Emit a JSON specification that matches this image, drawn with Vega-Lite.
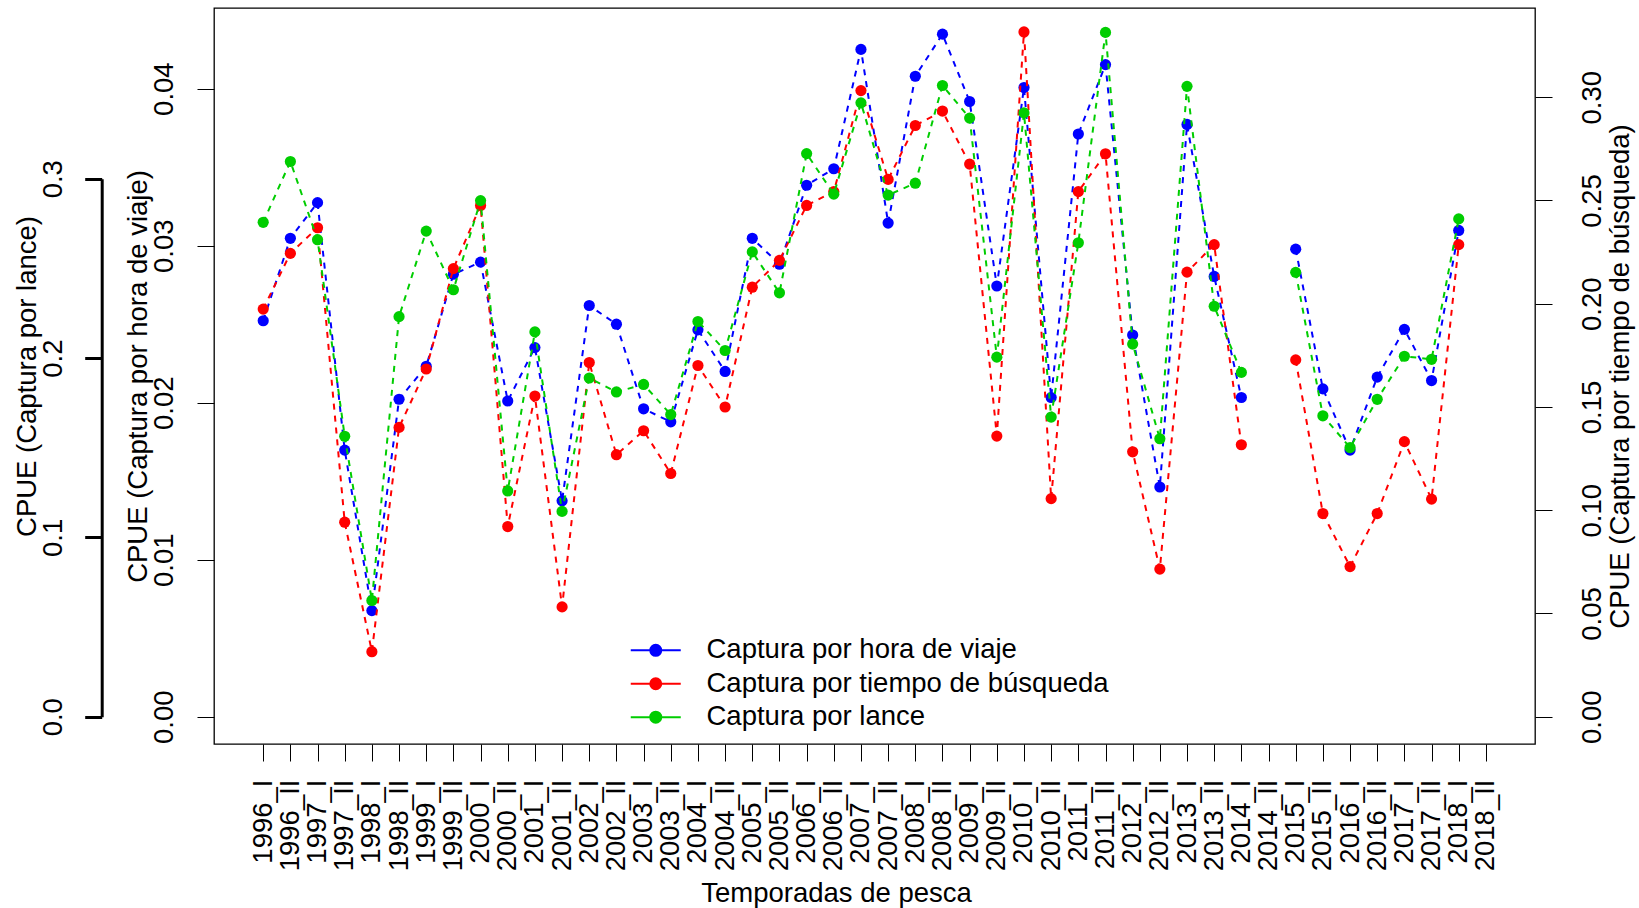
{
  "$schema": "https://vega.github.io/schema/vega-lite/v6.json",
  "width": 1321,
  "height": 736,
  "autosize": {"type": "none"},
  "padding": {"left": 214, "top": 8, "right": 104, "bottom": 164},
  "background": "white",
  "config": {
    "view": {"stroke": "black", "strokeWidth": 1.3},
    "font": "Liberation Sans",
    "axis": {
      "labelFont": "Liberation Sans",
      "titleFont": "Liberation Sans",
      "labelFontSize": 27.5,
      "titleFontSize": 27.5,
      "titleFontWeight": "normal",
      "labelColor": "black",
      "titleColor": "black",
      "tickColor": "black",
      "domainColor": "black",
      "grid": false,
      "labelOverlap": false,
      "labelFlush": false,
      "labelBound": false
    }
  },
  "data": {
    "values": [
      {"t": "1996_I", "hv": 0.02522, "tb": 0.1974, "ln": 0.2757},
      {"t": "1996_II", "hv": 0.03047, "tb": 0.2244, "ln": 0.3096},
      {"t": "1997_I", "hv": 0.03274, "tb": 0.2368, "ln": 0.2660},
      {"t": "1997_II", "hv": 0.01698, "tb": 0.0942, "ln": 0.1564},
      {"t": "1998_I", "hv": 0.00676, "tb": 0.0315, "ln": 0.0648},
      {"t": "1998_II", "hv": 0.02022, "tb": 0.1401, "ln": 0.2231},
      {"t": "1999_I", "hv": 0.02232, "tb": 0.1684, "ln": 0.2708},
      {"t": "1999_II", "hv": 0.02818, "tb": 0.2170, "ln": 0.2381},
      {"t": "2000_I", "hv": 0.02895, "tb": 0.2476, "ln": 0.2878},
      {"t": "2000_II", "hv": 0.02011, "tb": 0.0921, "ln": 0.1259},
      {"t": "2001_I", "hv": 0.02351, "tb": 0.1553, "ln": 0.2146},
      {"t": "2001_II", "hv": 0.01375, "tb": 0.0532, "ln": 0.1145},
      {"t": "2002_I", "hv": 0.02619, "tb": 0.1715, "ln": 0.1889},
      {"t": "2002_II", "hv": 0.02500, "tb": 0.1269, "ln": 0.1811},
      {"t": "2003_I", "hv": 0.01961, "tb": 0.1385, "ln": 0.1853},
      {"t": "2003_II", "hv": 0.01878, "tb": 0.1178, "ln": 0.1685},
      {"t": "2004_I", "hv": 0.02464, "tb": 0.1701, "ln": 0.2204},
      {"t": "2004_II", "hv": 0.02199, "tb": 0.1500, "ln": 0.2042},
      {"t": "2005_I", "hv": 0.03047, "tb": 0.2080, "ln": 0.2592},
      {"t": "2005_II", "hv": 0.02882, "tb": 0.2210, "ln": 0.2364},
      {"t": "2006_I", "hv": 0.03385, "tb": 0.2476, "ln": 0.3140},
      {"t": "2006_II", "hv": 0.03490, "tb": 0.2543, "ln": 0.2914},
      {"t": "2007_I", "hv": 0.04250, "tb": 0.3032, "ln": 0.3423},
      {"t": "2007_II", "hv": 0.03144, "tb": 0.2602, "ln": 0.2909},
      {"t": "2008_I", "hv": 0.04079, "tb": 0.2863, "ln": 0.2975},
      {"t": "2008_II", "hv": 0.04347, "tb": 0.2933, "ln": 0.3520},
      {"t": "2009_I", "hv": 0.03918, "tb": 0.2676, "ln": 0.3338},
      {"t": "2009_II", "hv": 0.02743, "tb": 0.1359, "ln": 0.2005},
      {"t": "2010_I", "hv": 0.04007, "tb": 0.3316, "ln": 0.3367},
      {"t": "2010_II", "hv": 0.02033, "tb": 0.1056, "ln": 0.1671},
      {"t": "2011_I", "hv": 0.03711, "tb": 0.2543, "ln": 0.2643},
      {"t": "2011_II", "hv": 0.04153, "tb": 0.2726, "ln": 0.3816},
      {"t": "2012_I", "hv": 0.02431, "tb": 0.1283, "ln": 0.2078},
      {"t": "2012_II", "hv": 0.01463, "tb": 0.0715, "ln": 0.1550},
      {"t": "2013_I", "hv": 0.03772, "tb": 0.2153, "ln": 0.3515},
      {"t": "2013_II", "hv": 0.02804, "tb": 0.2286, "ln": 0.2289},
      {"t": "2014_I", "hv": 0.02033, "tb": 0.1317, "ln": 0.1920},
      {"t": "2014_II", "hv": null, "tb": null, "ln": null},
      {"t": "2015_I", "hv": 0.02978, "tb": 0.1728, "ln": 0.2478},
      {"t": "2015_II", "hv": 0.02088, "tb": 0.0984, "ln": 0.1678},
      {"t": "2016_I", "hv": 0.01698, "tb": 0.0727, "ln": 0.1501},
      {"t": "2016_II", "hv": 0.02163, "tb": 0.0984, "ln": 0.1770},
      {"t": "2017_I", "hv": 0.02467, "tb": 0.1332, "ln": 0.2010},
      {"t": "2017_II", "hv": 0.02141, "tb": 0.1054, "ln": 0.1993},
      {"t": "2018_I", "hv": 0.03097, "tb": 0.2286, "ln": 0.2776},
      {"t": "2018_II", "hv": null, "tb": null, "ln": null}
    ]
  },
  "encoding": {
    "x": {
      "field": "t",
      "type": "ordinal",
      "sort": null,
      "scale": {"type": "point", "padding": 0, "range": [49.2, 1271.9]},
      "axis": {
        "title": "Temporadas de pesca",
        "labelAngle": -90,
        "labelAlign": "right",
        "labelBaseline": "middle",
        "labelPadding": 18,
        "tickSize": 17,
        "tickWidth": 1,
        "domain": false,
        "titleX": 622,
        "titleY": 157,
        "titleAlign": "center",
        "titleBaseline": "alphabetic"
      }
    }
  },
  "layer": [
    {
      "mark": {"type": "line", "strokeDash": [6, 6], "strokeWidth": 2, "invalid": "break-paths-filter-domains", "point": {"filled": true, "size": 125, "opacity": 1}},
      "encoding": {
        "y": {
          "field": "hv",
          "type": "quantitative",
          "scale": {"domain": [-0.001736, 0.045136], "nice": false, "zero": false},
          "axis": {
            "orient": "left",
            "values": [0, 0.01, 0.02, 0.03, 0.04],
            "format": ".2f",
            "labelAngle": -90,
            "labelAlign": "center",
            "labelBaseline": "alphabetic",
            "labelPadding": 24.5,
            "tickSize": 17,
            "domain": false,
            "title": "CPUE (Captura por hora de viaje)",
            "titleAngle": -90,
            "titleX": -68,
            "titleY": 368,
            "titleAlign": "center",
            "titleBaseline": "alphabetic"
          }
        },
        "color": {
          "datum": "Captura por hora de viaje",
          "scale": {
            "domain": ["Captura por hora de viaje", "Captura por tiempo de búsqueda", "Captura por lance"],
            "range": ["#0000FF", "#FF0000", "#00CD00"]
          },
          "legend": {
            "orient": "none",
            "legendX": 428,
            "legendY": 628.6,
            "title": null,
            "padding": 0,
            "symbolType": "M-2.5,0H2.5M-0.55,0A0.55,0.55 0 1,0 0.55,0A0.55,0.55 0 1,0 -0.55,0Z",
            "symbolSize": 400,
            "symbolOffset": 0,
            "symbolStrokeWidth": 2,
            "symbolOpacity": 1,
            "labelFont": "Liberation Sans",
            "labelFontSize": 27.5,
            "labelColor": "black",
            "labelLimit": 0,
            "labelOffset": 37,
            "rowPadding": 4.4,
            "encode": {
              "symbols": {
                "update": {
                  "fill": {"scale": "color", "field": "value"},
                  "stroke": {"scale": "color", "field": "value"},
                  "strokeDash": {"value": []}
                }
              }
            }
          }
        }
      }
    },
    {
      "mark": {"type": "line", "strokeDash": [6, 6], "strokeWidth": 2, "invalid": "break-paths-filter-domains", "point": {"filled": true, "size": 125, "opacity": 1}},
      "encoding": {
        "y": {
          "field": "tb",
          "type": "quantitative",
          "scale": {"domain": [-0.0132, 0.3432], "nice": false, "zero": false},
          "axis": {
            "orient": "right",
            "values": [0, 0.05, 0.1, 0.15, 0.2, 0.25, 0.3],
            "format": ".2f",
            "labelAngle": -90,
            "labelAlign": "center",
            "labelBaseline": "alphabetic",
            "labelPadding": 48.5,
            "tickSize": 17,
            "domain": false,
            "title": "CPUE (Captura por tiempo de búsqueda)",
            "titleAngle": -90,
            "titleX": 93.5,
            "titleY": 368,
            "titleAlign": "center",
            "titleBaseline": "alphabetic"
          }
        },
        "color": {"datum": "Captura por tiempo de búsqueda"}
      }
    },
    {
      "mark": {"type": "line", "strokeDash": [6, 6], "strokeWidth": 2, "invalid": "break-paths-filter-domains", "point": {"filled": true, "size": 125, "opacity": 1}},
      "encoding": {
        "y": {
          "field": "ln",
          "type": "quantitative",
          "scale": {"domain": [-0.0152, 0.3952], "nice": false, "zero": false},
          "axis": {
            "orient": "left",
            "offset": 112.3,
            "values": [0, 0.1, 0.2, 0.3],
            "format": ".1f",
            "labelAngle": -90,
            "labelAlign": "center",
            "labelBaseline": "alphabetic",
            "labelPadding": 22.7,
            "tickSize": 17,
            "tickWidth": 3,
            "domain": true,
            "domainWidth": 3,
            "domainDash": [0, 27.3, 538, 1000],
            "title": "CPUE (Captura por lance)",
            "titleAngle": -90,
            "titleX": -66.7,
            "titleY": 368,
            "titleAlign": "center",
            "titleBaseline": "alphabetic"
          }
        },
        "color": {"datum": "Captura por lance"}
      }
    }
  ],
  "resolve": {"scale": {"y": "independent"}, "axis": {"y": "independent"}}
}
